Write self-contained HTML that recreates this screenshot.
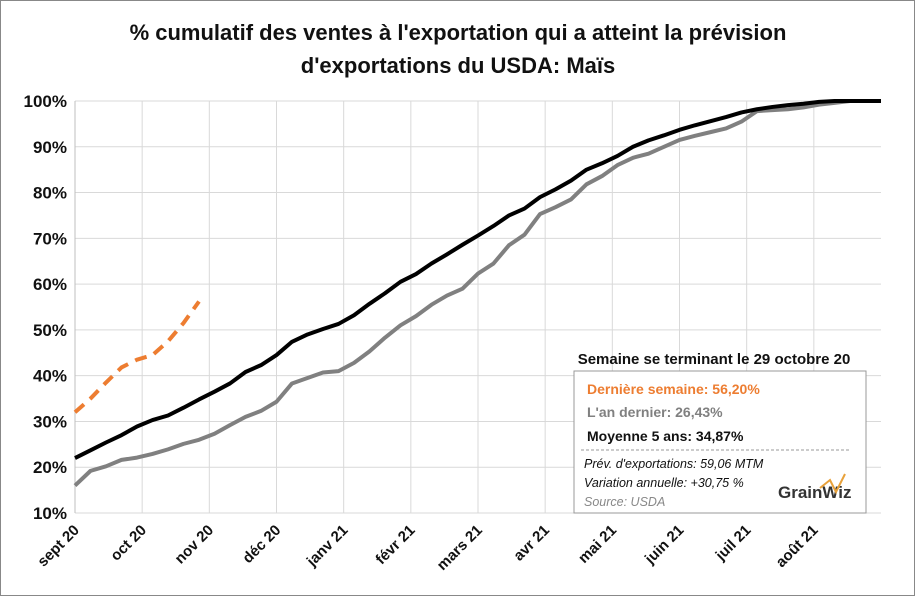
<!DOCTYPE html>
<html><head><meta charset="utf-8"><style>
body{margin:0;background:#fff;}
svg{display:block;font-family:"Liberation Sans",Arial,sans-serif;}
</style></head><body>
<svg id="chart" width="915" height="596" viewBox="0 0 915 596">
<rect x="0.5" y="0.5" width="914" height="595" fill="#fff" stroke="#888"/>
<text x="458" y="40" text-anchor="middle" font-size="22" font-weight="bold" fill="#111">% cumulatif des ventes à l'exportation qui a atteint la prévision</text>
<text x="458" y="73" text-anchor="middle" font-size="22" font-weight="bold" fill="#111">d'exportations du USDA: Maïs</text>
<g id="grid"></g><g id="axes"></g><g id="series"></g>
<g>
<text x="714" y="364" text-anchor="middle" font-size="15" font-weight="bold" fill="#111">Semaine se terminant le 29 octobre 20</text>
<rect x="574" y="371" width="292" height="142" fill="#fff" stroke="#999"/>
<text x="587" y="394" font-size="14" font-weight="bold" fill="#ed7d31">Dernière semaine: 56,20%</text>
<text x="587" y="417" font-size="14" font-weight="bold" fill="#808080">L'an dernier: 26,43%</text>
<text x="587" y="441" font-size="14" font-weight="bold" fill="#111">Moyenne 5 ans: 34,87%</text>
<line x1="581" y1="450" x2="850" y2="450" stroke="#999" stroke-dasharray="3,2"/>
<text x="584" y="468" font-size="12.5" font-style="italic" fill="#111">Prév. d'exportations:  59,06 MTM</text>
<text x="584" y="487" font-size="12.5" font-style="italic" fill="#111">Variation annuelle: +30,75 %</text>
<text x="584" y="506" font-size="12.5" font-style="italic" fill="#888">Source:  USDA</text>
<text x="778" y="498" font-size="17" font-weight="bold" fill="#333">GrainWiz</text>
<polyline points="820,488 830,480 836,492 845,474" fill="none" stroke="#e8a13a" stroke-width="2"/>
</g>
</svg>
<script>
const months=["sept 20","oct 20","nov 20","déc 20","janv 21","févr 21","mars 21","avr 21","mai 21","juin 21","juil 21","août 21"];
const yTicks=[10,20,30,40,50,60,70,80,90,100];
const avg5=[22,23.7,25.4,27,28.9,30.3,31.3,33,34.8,36.5,38.3,40.8,42.3,44.5,47.4,49,50.2,51.3,53.2,55.7,58,60.5,62.2,64.5,66.5,68.6,70.6,72.7,75,76.5,79,80.7,82.6,85,86.4,88,90,91.4,92.5,93.7,94.7,95.6,96.5,97.5,98.2,98.7,99.1,99.4,99.8,100,100,100,100];
const lastYear=[16,19.2,20.2,21.6,22.1,22.9,23.9,25.1,26,27.3,29.2,31,32.3,34.3,38.3,39.5,40.7,41,42.8,45.3,48.3,51,53,55.5,57.5,59,62.3,64.5,68.5,70.8,75.3,76.8,78.5,81.8,83.6,86,87.6,88.5,90,91.5,92.4,93.2,94,95.5,97.8,98,98.2,98.6,99.2,99.6,100,100,100];
const current=[32,35,38.5,41.8,43.5,44.5,47.5,51.5,56.2];
const NS="http://www.w3.org/2000/svg";
const X0=75,X1=881,Y0=513,Y1=101;
const xWeek=i=>X0+i*(X1-X0)/52;
const xMonth=k=>X0+k*(X1-X0)/12;
const y=v=>Y0-(v-10)*(Y0-Y1)/90;
function mk(tag,attrs,parent){const e=document.createElementNS(NS,tag);for(const k in attrs)e.setAttribute(k,attrs[k]);parent.appendChild(e);return e;}
const grid=document.getElementById('grid'),axes=document.getElementById('axes'),ser=document.getElementById('series');
yTicks.forEach(t=>{
 const l=mk('line',{x1:X0,x2:X1,y1:y(t),y2:y(t),stroke:'#d9d9d9','stroke-width':1},grid);
 
 
 const tx=mk('text',{x:X0-8,y:y(t)+6,'text-anchor':'end','font-size':17,'font-weight':'bold',fill:'#111'},axes);
 tx.textContent=t+'%';
 
 
});
months.forEach((m,k)=>{
 const l=mk('line',{x1:xMonth(k),x2:xMonth(k),y1:Y1,y2:Y0,stroke:'#d9d9d9','stroke-width':1},grid);
 
 
 const tx=mk('text',{x:0,y:0,'text-anchor':'end','font-size':15,'font-weight':'bold',fill:'#111',transform:`translate(${xMonth(k)+5},${Y0+18}) rotate(-45)`},axes);
 tx.textContent=m;
 
 
});
const ax=mk('line',{x1:X0,x2:X0,y1:Y1,y2:Y0,stroke:'#bfbfbf','stroke-width':1},axes);


function line(data,color,w,dash,name){
 const p=mk('polyline',{points:data.map((v,i)=>xWeek(i)+','+y(v)).join(' '),fill:'none',stroke:color,'stroke-width':w,'stroke-linejoin':'round'},ser);
 if(dash)p.setAttribute('stroke-dasharray',dash);
 
 
}
line(lastYear,'#808080',4,null,'last-year-line');
line(avg5,'#000',4,null,'five-year-avg-line');
line(current,'#ed7d31',4,'12,8','current-year-line');
</script>
</body></html>
